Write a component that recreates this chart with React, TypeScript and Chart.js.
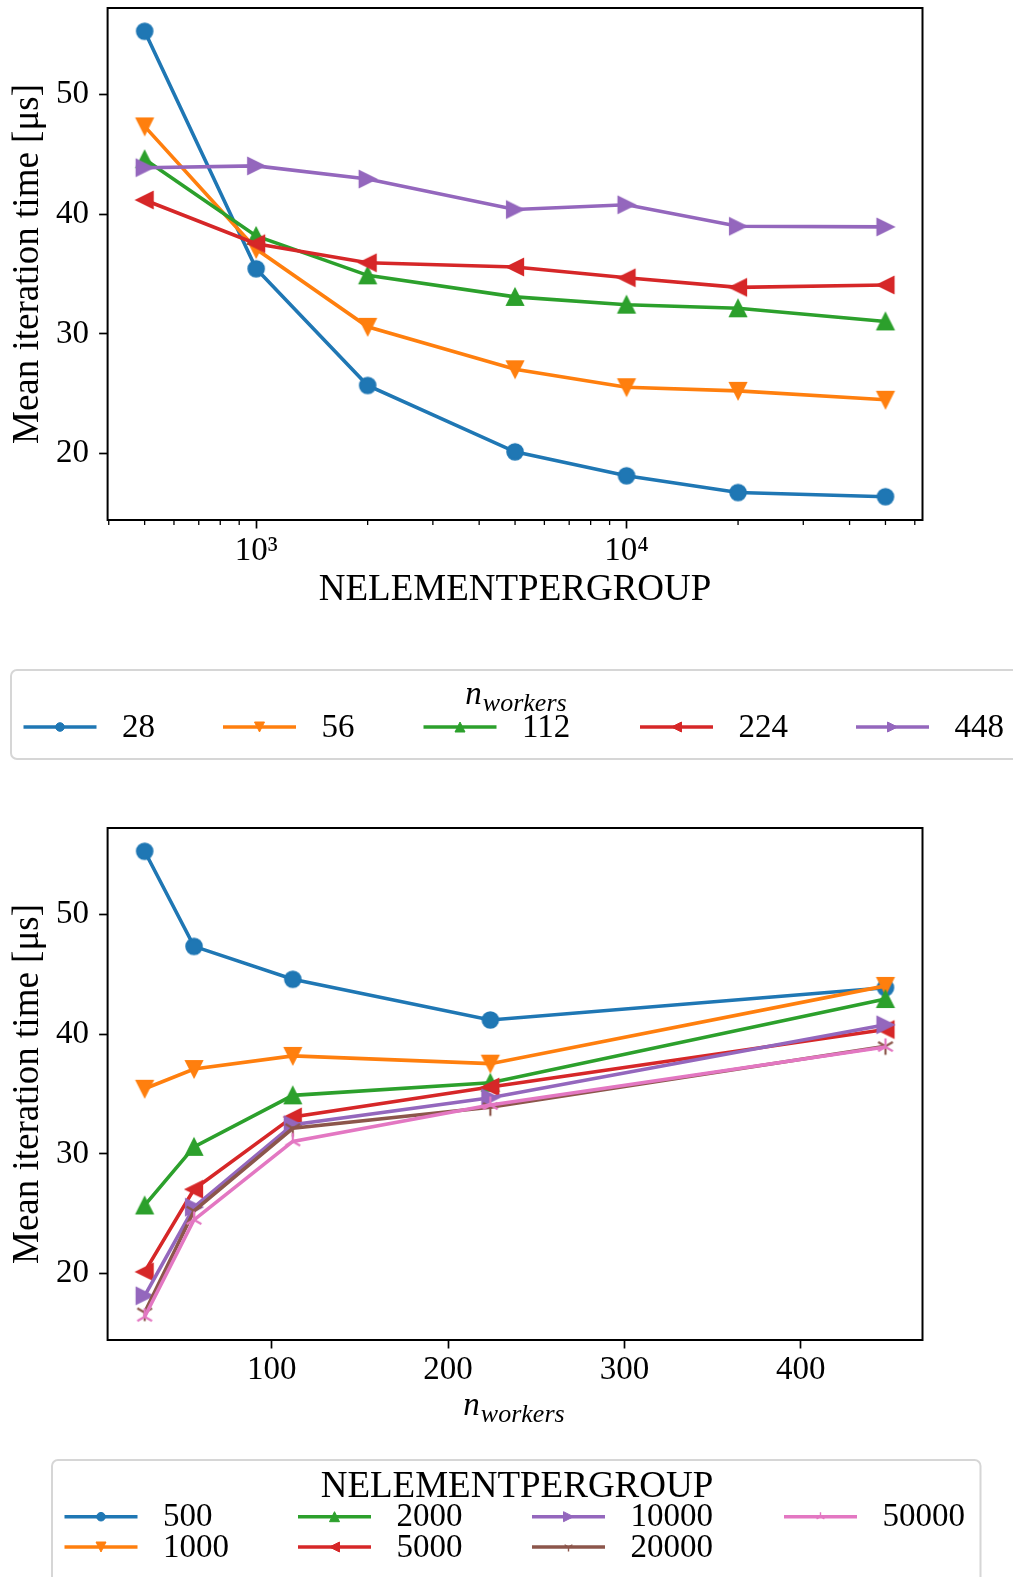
import React, { useEffect, useRef } from 'react';
import { Chart, registerables } from 'chart.js';

Chart.register(...registerables);

// ---------------- data ----------------
const nElementPerGroup = [500, 1000, 2000, 5000, 10000, 20000, 50000];
const nWorkers = [28, 56, 112, 224, 448];
// mean iteration time [us], one array per n_workers, indexed by nElementPerGroup
const time28 = [55.3, 35.45, 25.7, 20.15, 18.15, 16.75, 16.4];
const time56 = [47.35, 37.1, 30.6, 27.05, 25.55, 25.25, 24.5];
const time112 = [44.6, 38.2, 34.9, 33.1, 32.45, 32.15, 31.05];
const time224 = [41.2, 37.55, 35.95, 35.6, 34.7, 33.9, 34.1];
const time448 = [43.9, 44.05, 42.95, 40.4, 40.8, 39.0, 38.95];
const timesByWorkers = [time28, time56, time112, time224, time448];

const yTickValues = [20, 30, 40, 50];
const logMajorTicks = [1000, 10000];
const logMinorTicks = [400, 500, 600, 700, 800, 900, 2000, 3000, 4000, 5000, 6000, 7000, 8000, 9000, 20000, 30000, 40000, 50000, 60000];
const workerTicks = [100, 200, 300, 400];

const palette = ['#1f77b4', '#ff7f0e', '#2ca02c', '#d62728', '#9467bd', '#8c564b', '#e377c2'];
const markerKinds = ['o', 'v', '^', '<', '>', '1', '2'];

const SERIF = '"Liberation Serif", "Times New Roman", serif';
const TICK_SIZE = 33;
const TITLE_SIZE = 37;

// ---------------- helpers ----------------
function superscript(n: number): string {
  const map: Record<string, string> = { '0': '⁰', '1': '¹', '2': '²', '3': '³', '4': '⁴', '5': '⁵', '6': '⁶', '7': '⁷', '8': '⁸', '9': '⁹', '-': '⁻' };
  return String(n).split('').map((c) => map[c] || c).join('');
}

function drawMarkerShape(ctx: CanvasRenderingContext2D, kind: string, x: number, y: number, h: number, color: string, lw: number) {
  ctx.save();
  ctx.fillStyle = color;
  ctx.strokeStyle = color;
  ctx.lineJoin = 'miter';
  if (kind === 'o') {
    ctx.beginPath();
    ctx.arc(x, y, h, 0, Math.PI * 2);
    ctx.fill();
    ctx.lineWidth = lw;
    ctx.stroke();
  } else if (kind === '^' || kind === 'v' || kind === '<' || kind === '>') {
    const rot = kind === '^' ? 0 : kind === 'v' ? Math.PI : kind === '<' ? -Math.PI / 2 : Math.PI / 2;
    ctx.translate(x, y);
    ctx.rotate(rot);
    ctx.beginPath();
    ctx.moveTo(0, -h);
    ctx.lineTo(-h, h);
    ctx.lineTo(h, h);
    ctx.closePath();
    ctx.fill();
    ctx.lineWidth = lw;
    ctx.stroke();
  } else {
    const s = kind === '1' ? 1 : -1;
    ctx.lineWidth = lw;
    ctx.beginPath();
    const pts = [[0, s * h], [-0.866 * h, -s * 0.5 * h], [0.866 * h, -s * 0.5 * h]];
    for (const [dx, dy] of pts) {
      ctx.moveTo(x, y);
      ctx.lineTo(x + dx, y + dy);
    }
    ctx.stroke();
  }
  ctx.restore();
}

function makeMarkerImage(kind: string, color: string): HTMLCanvasElement {
  const half = kind === 'o' ? 8 : kind === '1' || kind === '2' ? 8.5 : 8.3;
  const lw = kind === '1' || kind === '2' ? 2.2 : 1.6;
  const size = 24;
  const c = document.createElement('canvas');
  c.width = size;
  c.height = size;
  const ctx = c.getContext('2d')!;
  drawMarkerShape(ctx, kind, size / 2, size / 2, half, color, lw);
  return c;
}

function drawMathText(ctx: CanvasRenderingContext2D, cx: number, baseline: number, main: string, sub: string, mainSize: number, subSize: number, subDrop: number) {
  ctx.save();
  ctx.fillStyle = '#000';
  ctx.textBaseline = 'alphabetic';
  ctx.textAlign = 'left';
  ctx.font = `italic ${mainSize}px ${SERIF}`;
  const wMain = ctx.measureText(main).width;
  ctx.font = `italic ${subSize}px ${SERIF}`;
  const wSub = ctx.measureText(sub).width;
  const x0 = cx - (wMain + 1 + wSub) / 2;
  ctx.font = `italic ${mainSize}px ${SERIF}`;
  ctx.fillText(main, x0, baseline);
  ctx.font = `italic ${subSize}px ${SERIF}`;
  ctx.fillText(sub, x0 + wMain + 1, baseline + subDrop);
  ctx.restore();
}

function roundRect(ctx: CanvasRenderingContext2D, x: number, y: number, w: number, h: number, r: number) {
  ctx.beginPath();
  ctx.moveTo(x + r, y);
  ctx.lineTo(x + w - r, y);
  ctx.arcTo(x + w, y, x + w, y + r, r);
  ctx.lineTo(x + w, y + h - r);
  ctx.arcTo(x + w, y + h, x + w - r, y + h, r);
  ctx.lineTo(x + r, y + h);
  ctx.arcTo(x, y + h, x, y + h - r, r);
  ctx.lineTo(x, y + r);
  ctx.arcTo(x, y, x + r, y, r);
  ctx.closePath();
}

type LegendItem = { x0: number; y: number };
type LegendSpec = {
  box: { x: number; y: number; w: number; h: number };
  title: { kind: 'text' | 'math'; text: string; sub?: string; cx: number; y: number };
  items: LegendItem[];
};

function makeDecorPlugin(opts: { minorTicks?: number[]; legend: LegendSpec; mathXTitle?: { cx: number; y: number } }) {
  return {
    id: 'mplDecor',
    afterDraw(chart: any) {
      const ctx: CanvasRenderingContext2D = chart.ctx;
      const area = chart.chartArea;
      ctx.save();
      // full frame (spines)
      ctx.strokeStyle = '#000';
      ctx.lineWidth = 2;
      ctx.strokeRect(area.left, area.top, area.right - area.left, area.bottom - area.top);
      // minor ticks on log axis
      if (opts.minorTicks) {
        const xs = chart.scales.x;
        ctx.lineWidth = 1.3;
        ctx.beginPath();
        for (const v of opts.minorTicks) {
          const px = xs.getPixelForValue(v);
          if (px < area.left - 0.5 || px > area.right + 0.5) continue;
          ctx.moveTo(px, area.bottom);
          ctx.lineTo(px, area.bottom + 5);
        }
        ctx.stroke();
      }
      // math x-axis title
      if (opts.mathXTitle) {
        drawMathText(ctx, opts.mathXTitle.cx, opts.mathXTitle.y, 'n', 'workers', 33, 26, 7);
      }
      // legend
      const lg = opts.legend;
      ctx.fillStyle = 'rgba(255,255,255,0.8)';
      roundRect(ctx, lg.box.x, lg.box.y, lg.box.w, lg.box.h, 6);
      ctx.fill();
      ctx.strokeStyle = '#d6d6d6';
      ctx.lineWidth = 2;
      ctx.stroke();
      if (lg.title.kind === 'math') {
        drawMathText(ctx, lg.title.cx, lg.title.y, lg.title.text, lg.title.sub || '', 33, 26, 7);
      } else {
        ctx.fillStyle = '#000';
        ctx.font = `${TITLE_SIZE}px ${SERIF}`;
        ctx.textAlign = 'center';
        ctx.textBaseline = 'middle';
        ctx.fillText(lg.title.text, lg.title.cx, lg.title.y);
      }
      chart.data.datasets.forEach((ds: any, i: number) => {
        const it = lg.items[i];
        if (!it) return;
        const len = 73;
        ctx.strokeStyle = ds.borderColor;
        ctx.lineWidth = 3.6;
        ctx.lineCap = 'butt';
        ctx.beginPath();
        ctx.moveTo(it.x0, it.y);
        ctx.lineTo(it.x0 + len, it.y);
        ctx.stroke();
        const k = ds.markerKind;
        const h = k === 'o' ? 4.3 : k === '1' || k === '2' ? 4.5 : 5;
        drawMarkerShape(ctx, k, it.x0 + len / 2, it.y, h, ds.borderColor, k === '1' || k === '2' ? 1.4 : 1);
        ctx.fillStyle = '#000';
        ctx.font = `${TICK_SIZE}px ${SERIF}`;
        ctx.textAlign = 'left';
        ctx.textBaseline = 'middle';
        ctx.fillText(ds.label, it.x0 + 98.5, it.y + 1);
      });
      ctx.restore();
    },
  };
}

function yRange() {
  const all = timesByWorkers.flat();
  const lo = Math.min(...all);
  const hi = Math.max(...all);
  const pad = (hi - lo) * 0.05;
  return { min: lo - pad, max: hi + pad };
}

function commonTickFont() {
  return { family: SERIF, size: TICK_SIZE, lineHeight: 1.2 };
}

function yScaleOptions() {
  const r = yRange();
  return {
    type: 'linear',
    min: r.min,
    max: r.max,
    bounds: 'data',
    afterBuildTicks: (s: any) => {
      s.ticks = yTickValues.map((v) => ({ value: v }));
    },
    afterFit: (s: any) => {
      s.width = 107.6;
      s.paddingTop = 0;
      s.paddingBottom = 0;
    },
    ticks: { font: commonTickFont(), color: '#000', padding: 10, autoSkip: false },
    grid: { drawOnChartArea: false, drawTicks: true, tickLength: 8.5, tickColor: '#000', tickWidth: 1.7 },
    border: { display: false },
    title: {
      display: true,
      text: 'Mean iteration time [μs]',
      color: '#000',
      font: { family: SERIF, size: TITLE_SIZE, lineHeight: 1 },
      padding: { top: 10, bottom: 0 },
    },
  };
}

function buildTopConfig() {
  const lx = Math.log10(nElementPerGroup[0]);
  const hx = Math.log10(nElementPerGroup[nElementPerGroup.length - 1]);
  const m = (hx - lx) * 0.05;
  const n = nWorkers.length;
  const datasets = nWorkers.map((w, i) => ({
    label: String(w),
    data: nElementPerGroup.map((x, j) => ({ x, y: timesByWorkers[i][j] })),
    borderColor: palette[i],
    backgroundColor: palette[i],
    borderWidth: 3.6,
    pointStyle: makeMarkerImage(markerKinds[i], palette[i]),
    pointRadius: 8,
    tension: 0,
    fill: false,
    order: n - 1 - i,
    markerKind: markerKinds[i],
  }));
  const legend: LegendSpec = {
    box: { x: 11, y: 670, w: 1040, h: 89 },
    title: { kind: 'math', text: 'n', sub: 'workers', cx: 516, y: 704 },
    items: [23.5, 223, 423.5, 640, 856].map((x0) => ({ x0, y: 727 })),
  };
  return {
    type: 'line',
    data: { datasets },
    options: {
      animation: false,
      responsive: false,
      maintainAspectRatio: false,
      layout: { autoPadding: false, padding: { left: 0, right: 90.5, top: 8, bottom: 165 } },
      plugins: { legend: { display: false }, tooltip: { enabled: false } },
      scales: {
        x: {
          type: 'logarithmic',
          min: Math.pow(10, lx - m),
          max: Math.pow(10, hx + m),
          bounds: 'data',
          afterBuildTicks: (s: any) => {
            s.ticks = logMajorTicks.map((v) => ({ value: v, major: true }));
          },
          afterFit: (s: any) => {
            s.height = 100;
            s.paddingLeft = 0;
            s.paddingRight = 0;
          },
          ticks: {
            font: commonTickFont(),
            color: '#000',
            padding: 3,
            autoSkip: false,
            maxRotation: 0,
            callback: (v: any) => '10' + superscript(Math.round(Math.log10(Number(v)))),
          },
          grid: { drawOnChartArea: false, drawTicks: true, tickLength: 8.5, tickColor: '#000', tickWidth: 1.7 },
          border: { display: false },
          title: {
            display: true,
            text: 'NELEMENTPERGROUP',
            color: '#000',
            font: { family: SERIF, size: TITLE_SIZE, lineHeight: 1 },
            padding: { top: 0, bottom: 11.5 },
          },
        },
        y: yScaleOptions(),
      },
    },
    plugins: [makeDecorPlugin({ minorTicks: logMinorTicks, legend })],
  };
}

function buildBottomConfig() {
  const lo = nWorkers[0];
  const hi = nWorkers[nWorkers.length - 1];
  const m = (hi - lo) * 0.05;
  const n = nElementPerGroup.length;
  const datasets = nElementPerGroup.map((ne, j) => ({
    label: String(ne),
    data: nWorkers.map((w, i) => ({ x: w, y: timesByWorkers[i][j] })),
    borderColor: palette[j],
    backgroundColor: palette[j],
    borderWidth: 3.6,
    pointStyle: makeMarkerImage(markerKinds[j], palette[j]),
    pointRadius: 8,
    tension: 0,
    fill: false,
    order: n - 1 - j,
    markerKind: markerKinds[j],
  }));
  const cols = [64.5, 298, 532, 784];
  const rows = [731.7, 762];
  const legend: LegendSpec = {
    box: { x: 52, y: 675, w: 928.5, h: 160 },
    title: { kind: 'text', text: 'NELEMENTPERGROUP', cx: 517, y: 702 },
    items: nElementPerGroup.map((_, j) => ({ x0: cols[Math.floor(j / 2)], y: rows[j % 2] })),
  };
  return {
    type: 'line',
    data: { datasets },
    options: {
      animation: false,
      responsive: false,
      maintainAspectRatio: false,
      layout: { autoPadding: false, padding: { left: 0, right: 90.5, top: 43, bottom: 137 } },
      plugins: { legend: { display: false }, tooltip: { enabled: false } },
      scales: {
        x: {
          type: 'linear',
          min: lo - m,
          max: hi + m,
          bounds: 'data',
          afterBuildTicks: (s: any) => {
            s.ticks = workerTicks.map((v) => ({ value: v }));
          },
          afterFit: (s: any) => {
            s.height = 100;
            s.paddingLeft = 0;
            s.paddingRight = 0;
          },
          ticks: { font: commonTickFont(), color: '#000', padding: 2, autoSkip: false, maxRotation: 0 },
          grid: { drawOnChartArea: false, drawTicks: true, tickLength: 8.5, tickColor: '#000', tickWidth: 1.7 },
          border: { display: false },
          title: { display: false },
        },
        y: yScaleOptions(),
      },
    },
    plugins: [makeDecorPlugin({ legend, mathXTitle: { cx: 514, y: 630 } })],
  };
}

function ChartCanvas({ build, top, height }: { build: () => any; top: number; height: number }) {
  const ref = useRef<HTMLCanvasElement | null>(null);
  useEffect(() => {
    if (!ref.current) return;
    const chart = new Chart(ref.current, build());
    return () => chart.destroy();
  }, [build]);
  return (
    <canvas
      ref={ref}
      width={1013}
      height={height}
      style={{ position: 'absolute', left: 0, top, width: 1013, height, display: 'block' }}
    />
  );
}

export default function App() {
  return (
    <div style={{ position: 'absolute', left: 0, top: 0, width: 1013, height: 1577, overflow: 'hidden', background: '#fff' }}>
      <ChartCanvas build={buildTopConfig} top={0} height={785} />
      <ChartCanvas build={buildBottomConfig} top={785} height={792} />
    </div>
  );
}
